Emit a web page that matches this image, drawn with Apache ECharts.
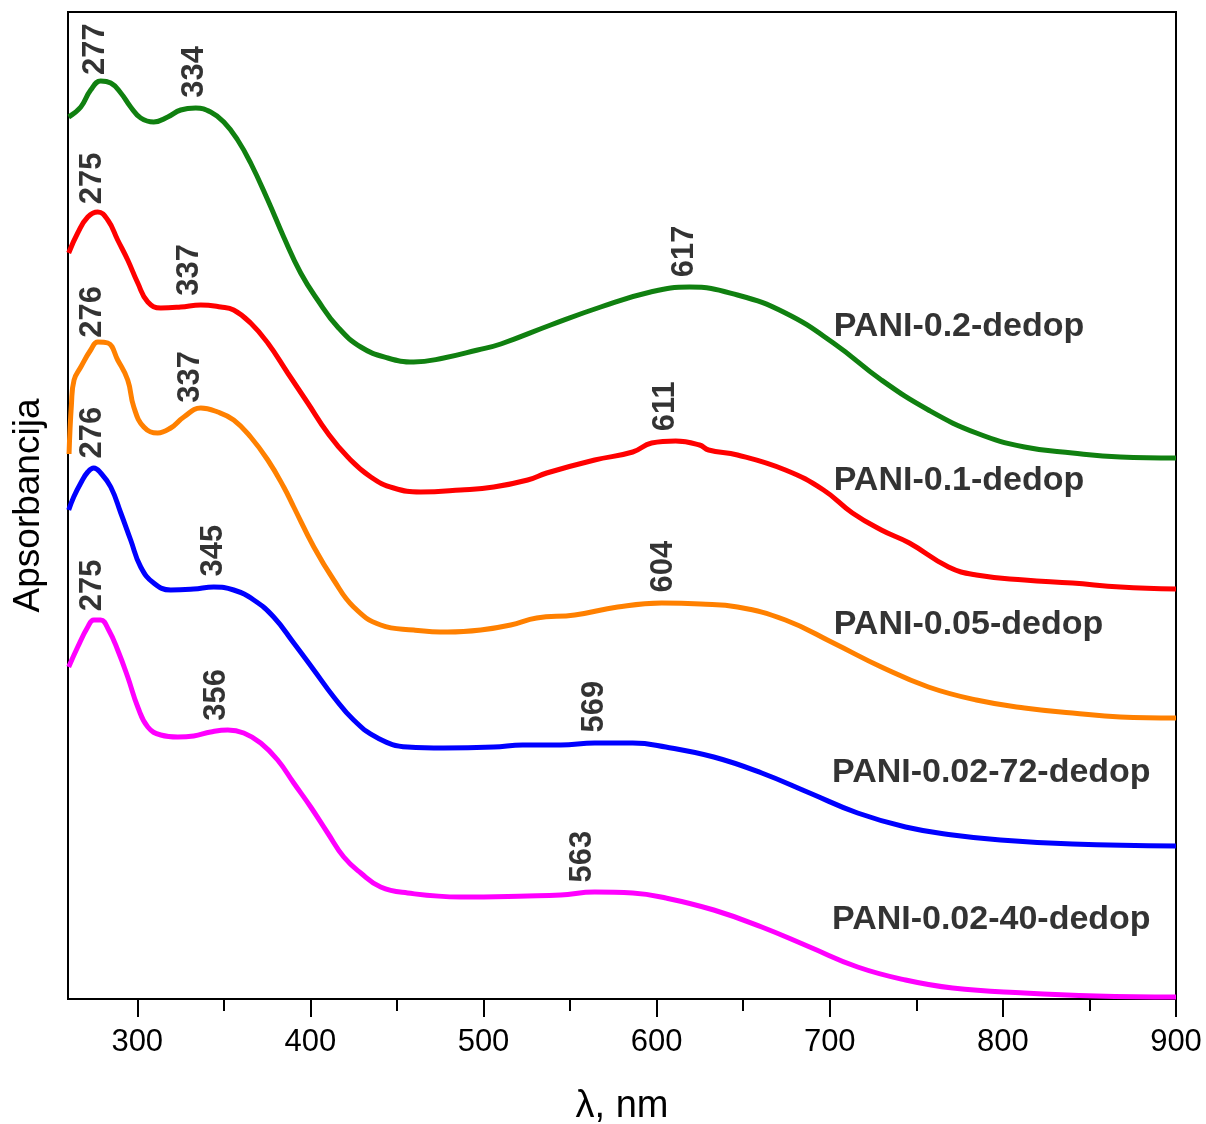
<!DOCTYPE html>
<html><head><meta charset="utf-8">
<script src="https://cdn.jsdelivr.net/npm/echarts@6/dist/echarts.min.js"></script>
<style>html,body{margin:0;padding:0;background:#fff}#c{width:1206px;height:1124px}</style>
</head><body><div id="c"></div>
<script>
// ---- data (wavelength nm, absorbance a.u., curves offset as in the figure) ----
const xMajorTicks = [300, 400, 500, 600, 700, 800, 900];
const xMinorTicks = [350, 450, 550, 650, 750, 850];

const seriesNames = ['PANI-0.2-dedop', 'PANI-0.1-dedop', 'PANI-0.05-dedop', 'PANI-0.02-72-dedop', 'PANI-0.02-40-dedop'];

const pani02 = [[260.4,8.82],[267.4,8.92],[273.1,9.09],[278.9,9.18],[284.7,9.16],[290.5,9.06],[296.2,8.92],[302,8.81],[309.5,8.77],[317.6,8.82],[325.1,8.89],[333.8,8.91],[342.4,8.87],[350,8.77],[358,8.59],[365.5,8.36],[375.4,7.99],[384.6,7.62],[394.4,7.26],[404.2,6.99],[415.8,6.72],[429.1,6.52],[444.7,6.41],[459.7,6.37],[477,6.41],[496.6,6.49],[510,6.55],[538.8,6.74],[567.7,6.92],[596.5,7.07],[619,7.12],[646.7,7.04],[674.4,6.86],[702.1,6.56],[729.8,6.19],[757,5.89],[784.7,5.66],[812.5,5.52],[840.2,5.46],[867.9,5.42],[900,5.41]];

const pani01 = [[260.4,7.46],[265.6,7.66],[271.4,7.82],[277.2,7.87],[283,7.79],[288.7,7.59],[294.5,7.39],[300.3,7.16],[306.1,6.97],[313.6,6.91],[325.1,6.92],[336.7,6.94],[348.2,6.92],[355.7,6.89],[365.5,6.76],[375.4,6.56],[386.9,6.26],[398.5,5.96],[410,5.66],[421.6,5.42],[434.9,5.22],[448.1,5.11],[463.7,5.07],[486.8,5.09],[505.9,5.12],[525.5,5.19],[536.5,5.26],[564.2,5.39],[586.2,5.47],[597.1,5.56],[611,5.58],[624.8,5.54],[630,5.49],[646.7,5.44],[674.4,5.29],[696.4,5.09],[713.1,4.86],[729.8,4.69],[746,4.56],[768.6,4.32],[784.7,4.24],[812.5,4.19],[840.2,4.16],[867.9,4.12],[900,4.10]];

const pani005 = [[260.6,5.45],[262,5.95],[263.5,6.19],[267.4,6.32],[273.1,6.49],[277.2,6.57],[283,6.56],[288.7,6.39],[294.5,6.19],[298,5.92],[303.8,5.72],[311.8,5.66],[319.3,5.71],[326.9,5.82],[336.7,5.91],[346.5,5.87],[355.7,5.79],[365.5,5.62],[375.4,5.39],[384.6,5.12],[390.4,4.92],[402,4.52],[413.5,4.19],[425,3.92],[440.6,3.74],[459.7,3.69],[479.3,3.67],[498.4,3.69],[515.7,3.74],[530.7,3.81],[552.7,3.84],[577.5,3.92],[602.9,3.96],[625.4,3.95],[646.7,3.92],[674.4,3.79],[702.1,3.56],[729.8,3.32],[757,3.12],[784.7,2.99],[812.5,2.91],[840.2,2.86],[867.9,2.82],[900,2.81]];

const pani002_72 = [[260.4,4.89],[263.3,5.02],[267.4,5.16],[271.4,5.27],[274.9,5.31],[278.9,5.26],[284.7,5.12],[290.5,4.86],[296.2,4.59],[302,4.32],[309.5,4.16],[319.3,4.09],[332.6,4.10],[344.2,4.12],[355.7,4.09],[367.3,3.99],[378.8,3.82],[390.4,3.56],[402,3.29],[413.5,3.02],[425,2.79],[438.9,2.61],[456.2,2.52],[477,2.51],[505.9,2.52],[522.6,2.54],[544.6,2.54],[564.2,2.56],[586.2,2.56],[605.3,2.52],[633,2.42],[660.7,2.26],[688.4,2.06],[716.1,1.86],[743.8,1.72],[771,1.64],[798.6,1.59],[840.2,1.55],[900,1.53]];

const pani002_40 = [[260.4,3.32],[265.6,3.52],[271.4,3.72],[274.9,3.79],[278.9,3.79],[283.5,3.69],[288.7,3.49],[294.5,3.22],[300.3,2.92],[306.1,2.72],[313.6,2.64],[323.4,2.62],[332.6,2.63],[342.4,2.67],[352.3,2.69],[361.5,2.66],[371.3,2.56],[381.1,2.39],[390.4,2.16],[400.2,1.92],[410,1.66],[419.3,1.42],[429.1,1.26],[440.6,1.12],[456.2,1.06],[486.8,1.02],[525.5,1.03],[544.6,1.04],[564.2,1.07],[586.2,1.06],[605.3,1.01],[633,0.89],[660.7,0.72],[688.4,0.52],[716.1,0.32],[743.8,0.19],[771,0.11],[812.5,0.06],[854,0.03],[900,0.02]];

// peak annotations: text (nm) and the wavelength where each label sits
const peakTexts = [['277','334','617'], ['275','337','611'], ['276','337','604'], ['276','345','569'], ['275','356','563']];
const peakLabelAt = [[276,333,616], [274,330,605], [274,331,604], [274,344,564], [274,346,557]];
// series name labels: [wavelength, absorbance] of the label anchor
const nameLabelAt = [[702,6.72],[702,5.18],[702,3.74],[701,2.26],[701,0.79]];

const colors = ['#108010', '#ff0000', '#ff8000', '#0000ff', '#ff00ff'];
const curves = [pani02, pani01, pani005, pani002_72, pani002_40];

function interp(arr, x) {
  for (let i = 0; i < arr.length - 1; i++) {
    if (x >= arr[i][0] && x <= arr[i+1][0]) {
      const t = (x - arr[i][0]) / (arr[i+1][0] - arr[i][0]);
      return arr[i][1] + t * (arr[i+1][1] - arr[i][1]);
    }
  }
  return arr[arr.length-1][1];
}

const FONT = 'Liberation Sans, Arial, sans-serif';
const series = [];
curves.forEach((d, i) => {
  series.push({
    type: 'line', name: seriesNames[i], data: d, showSymbol: false, smooth: 0.45,
    lineStyle: { color: colors[i], width: 5 }, itemStyle: { color: colors[i] }, silent: true, z: 2
  });
});
const peakData = [];
peakTexts.forEach((arr, i) => arr.forEach((t, j) => {
  const x = peakLabelAt[i][j];
  peakData.push({ value: [x, interp(curves[i], x)], name: t });
}));
series.push({
  type: 'scatter', data: peakData, symbolSize: 1, silent: true, z: 5,
  itemStyle: { color: 'rgba(0,0,0,0)' },
  label: { show: true, formatter: p => p.name, position: 'top', distance: 10, rotate: 90,
    align: 'left', verticalAlign: 'middle', fontFamily: FONT, fontWeight: 'bold', fontSize: 31, color: '#000' }
});
series.push({
  type: 'scatter', data: nameLabelAt.map((v, i) => ({ value: v, name: seriesNames[i] })), symbolSize: 1, silent: true, z: 5,
  itemStyle: { color: 'rgba(0,0,0,0)' },
  label: { show: true, formatter: p => p.name, position: 'right', distance: 0,
    align: 'left', verticalAlign: 'middle', fontFamily: FONT, fontWeight: 'bold', fontSize: 34, color: '#000' }
});

const chart = echarts.init(document.getElementById('c'), null, { renderer: 'canvas' });
chart.setOption({
  animation: false,
  backgroundColor: '#fff',
  grid: { left: 68, right: 30, top: 12, bottom: 125, containLabel: false, outerBoundsMode: 'none',
    show: true, borderColor: '#000', borderWidth: 2, backgroundColor: 'transparent' },
  xAxis: [{
    type: 'value', min: 260, max: 900,
    name: 'λ, nm', nameLocation: 'middle', nameGap: 89,
    nameTextStyle: { fontFamily: FONT, fontSize: 38, color: '#000' },
    axisLine: { show: true, lineStyle: { color: '#000', width: 2 } },
    axisTick: { show: true, inside: false, length: 18, lineStyle: { color: '#000', width: 2 }, customValues: xMajorTicks },
    axisLabel: { show: true, margin: 28, fontFamily: FONT, fontSize: 31, color: '#000', customValues: xMajorTicks },
    splitLine: { show: false }
  }, {
    type: 'value', min: 260, max: 900, position: 'bottom',
    axisLine: { show: false },
    axisTick: { show: true, inside: false, length: 12, lineStyle: { color: '#000', width: 2 }, customValues: xMinorTicks },
    axisLabel: { show: false },
    splitLine: { show: false }
  }],
  yAxis: {
    type: 'value', min: 0, max: 9.87,
    name: 'Apsorbancija', nameLocation: 'middle', nameGap: 21,
    nameTextStyle: { fontFamily: FONT, fontSize: 37, color: '#000' },
    axisLine: { show: true, lineStyle: { color: '#000', width: 2 } },
    axisTick: { show: false }, axisLabel: { show: false }, splitLine: { show: false }
  },
  series: series
});
</script></body></html>
